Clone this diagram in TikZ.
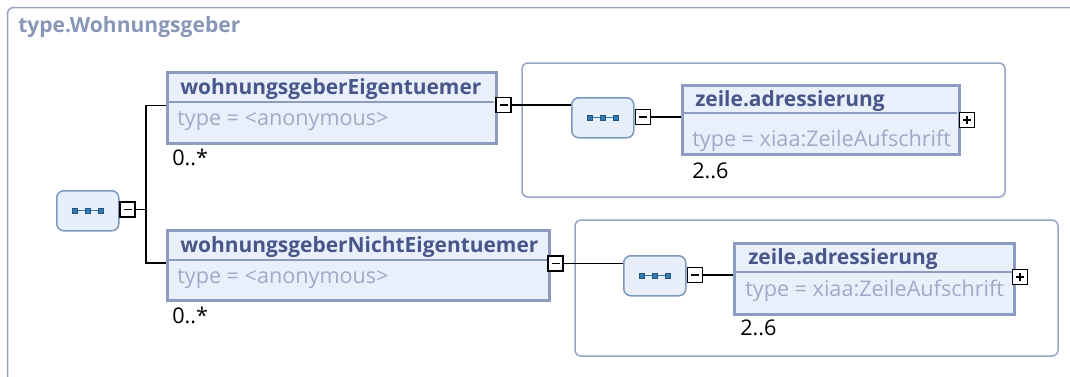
\documentclass[tikz,border=0pt]{standalone}
\usepackage{fontspec}
\setmainfont{Open Sans}
\usetikzlibrary{positioning}
\newlength\pxl
\setlength\pxl{0.75pt}
\definecolor{frameblue}{RGB}{150,163,196}
\definecolor{titlegray}{RGB}{136,150,184}
\definecolor{namedark}{RGB}{72,86,138}
\definecolor{typegray}{RGB}{160,170,200}
\definecolor{elemborder}{RGB}{140,156,192}
\definecolor{elemfill}{RGB}{233,240,251}
\definecolor{seqborder}{RGB}{125,152,190}
\definecolor{seqfill}{RGB}{231,240,250}
\definecolor{iconblue}{RGB}{52,122,180}
\tikzset{
  grp/.style={draw=frameblue,line width=1.5\pxl,rounded corners=6\pxl},
  elem/.style={draw=elemborder,fill=elemfill,line width=3\pxl,anchor=north west,
    minimum width=#1\pxl,inner sep=0pt},
  divider/.style={draw=elemborder,line width=1.5\pxl},
  seq/.style={draw=seqborder,fill=seqfill,line width=1.5\pxl,rounded corners=7\pxl,
    anchor=north west,minimum width=62\pxl,minimum height=40\pxl,inner sep=0pt},
  toggle/.style={draw=black,fill=white,line width=1.5\pxl,minimum size=15\pxl,inner sep=0pt},
  minus/.style={toggle,path picture={
    \draw[line width=1.6\pxl] ([xshift=-4\pxl]path picture bounding box.center)
      -- ([xshift=4\pxl]path picture bounding box.center);}},
  plus/.style={toggle,path picture={
    \draw[line width=1.6\pxl] ([xshift=-4\pxl]path picture bounding box.center)
      -- ([xshift=4\pxl]path picture bounding box.center)
      ([yshift=-4\pxl]path picture bounding box.center)
      -- ([yshift=4\pxl]path picture bounding box.center);}},
  link/.style={draw=black,line width=1.5\pxl},
  ename/.style={anchor=west,inner sep=0pt,text=namedark,font=\fontsize{15.7}{18}\selectfont\bfseries},
  etype/.style={anchor=west,inner sep=0pt,text=typegray,font=\fontsize{16.2}{18}\selectfont},
  mult/.style={anchor=west,inner sep=0pt,font=\fontsize{16.2}{18}\selectfont},
  pics/seqicon/.style={code={
    \draw[iconblue,line width=1\pxl] (-13,0) -- (13,0);
    \foreach \dx in {-13,0,13}
      \fill[iconblue,draw=iconblue!70!black,line width=0.5\pxl] (\dx-2.3,-2.3) rectangle (\dx+2.3,2.3);
  }},
}
\begin{document}
\begin{tikzpicture}[x=0.75pt,y=-0.75pt]
  \useasboundingbox (0,0) rectangle (1070,376);
  % outer frame and title
  \draw[grp] (7.5,385) -- (7.5,7.5) -- (1080,7.5);
  \node[anchor=west,inner sep=0pt,text=titlegray,font=\fontsize{15.8}{18}\selectfont\bfseries] (title) at (18,27) {type.Wohnungsgeber};

  % root sequence
  \node[seq] (seq) at (56,190) {};
  \pic at (seq.center) {seqicon};
  \node[minus] (mseq) at (127.5,209.5) {};
  \coordinate (fork) at (146,209.5);
  \draw[link] (mseq.east) -- (fork);

  % first branch
  \node[elem=329,minimum height=71\pxl] (eA) at (166,71) {};
  \draw[divider] (167.5,102) -- (493.5,102);
  \node[ename] (eAname) at (180,89) {wohnungsgeberEigentuemer};
  \node[etype] (eAtype) at (177,121) {type = <anonymous>};
  \node[mult] (eAmult) at (172,157) {0..*};
  \node[minus] (mA) at (503.5,105) {};
  \draw[link] (eA.west |- 0,105.5) -| (fork) |- (eA.west |- 0,263);

  \draw[grp] (522,63) rectangle (1005,197);
  \node[seq] (seqA) at (571,97) {};
  \pic at (seqA.center) {seqicon};
  \draw[link] (mA.east) -- (seqA.west |- mA.east);
  \node[minus] (mseqA) at (643,117) {};
  \node[elem=277,minimum height=69\pxl] (zA) at (681,84) {};
  \draw[divider] (682.5,113) -- (956.5,113);
  \node[ename] (zAname) at (695,101) {zeile.adressierung};
  \node[etype] (zAtype) at (692,141) {type = xiaa:ZeileAufschrift};
  \node[mult] (zAmult) at (692,171) {2..6};
  \node[plus] (pA) at (967,120) {};
  \draw[link] (mseqA.east) -- (zA.west |- mseqA.east);

  % second branch
  \node[elem=382,minimum height=70\pxl] (eB) at (166,229) {};
  \draw[divider] (167.5,260) -- (546.5,260);
  \node[ename] (eBname) at (180,247) {wohnungsgeberNichtEigentuemer};
  \node[etype] (eBtype) at (177,279) {type = <anonymous>};
  \node[mult] (eBmult) at (172,315) {0..*};
  \node[minus] (mB) at (555.5,263.5) {};

  \draw[grp] (575,220) rectangle (1058,356);
  \node[seq] (seqB) at (623,255) {};
  \pic at (seqB.center) {seqicon};
  \draw[link] (mB.east) -- (seqB.west |- mB.east);
  \node[minus] (mseqB) at (695,275) {};
  \node[elem=280,minimum height=71\pxl] (zB) at (733,242) {};
  \draw[divider] (734.5,272) -- (1011.5,272);
  \node[ename] (zBname) at (748,259) {zeile.adressierung};
  \node[etype] (zBtype) at (745,291) {type = xiaa:ZeileAufschrift};
  \node[mult] (zBmult) at (740,328) {2..6};
  \node[plus] (pB) at (1020,277) {};
  \draw[link] (mseqB.east) -- (zB.west |- mseqB.east);
\end{tikzpicture}
\end{document}
